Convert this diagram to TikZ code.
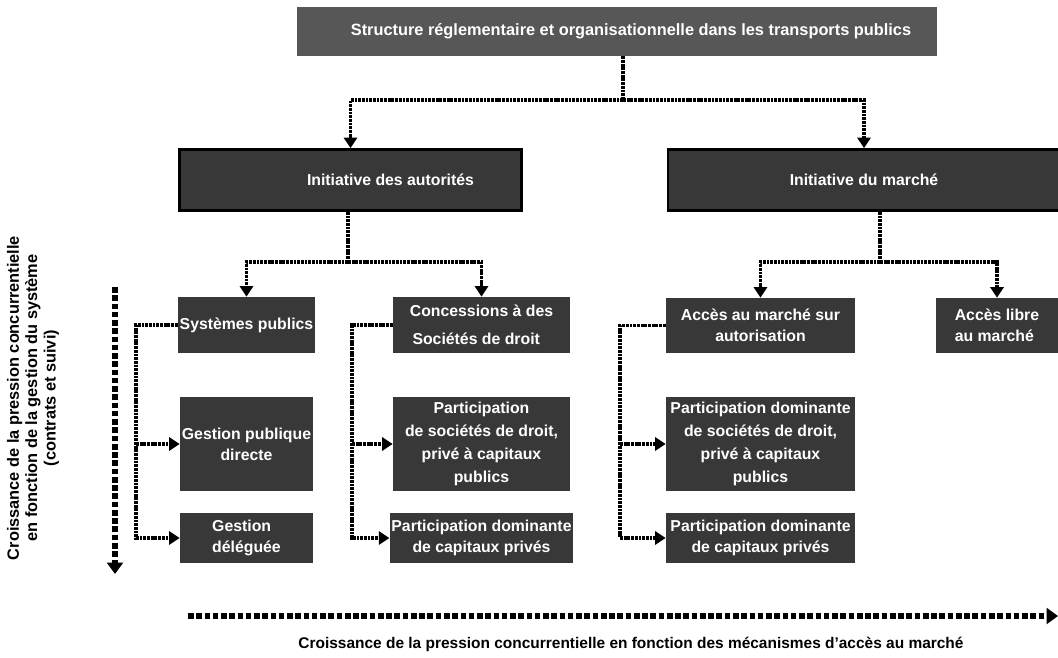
\documentclass[tikz,border=0pt]{standalone}
\usepackage{fontspec}
\setmainfont{Liberation Sans}
\usetikzlibrary{arrows.meta}
\tikzset{
  box/.style={fill=black!78, text=white, font=\bfseries\fontsize{9}{12}\selectfont, align=center, inner sep=1pt},
  conn/.style={line width=1.8pt, dash pattern=on 1.6pt off 0.5pt, -{Triangle[length=6pt,width=7.5pt]}},
  line/.style={line width=1.8pt, dash pattern=on 1.6pt off 0.5pt},
  bigarrow/.style={line width=3.7pt, dash pattern=on 3.2pt off 1.5pt, -{Triangle[length=6.5pt,width=9pt]}}
}
\begin{document}
\begin{tikzpicture}[x=0.02cm, y=-0.02cm]
	\useasboundingbox (0,0) rectangle (1058,657);
	% boxes
	\node[box, fill=black!66, minimum width=12.8cm, minimum height=0.98cm, font=\bfseries\fontsize{9.3}{11}\selectfont] (top) at (617,31.5) {\hspace*{0.56cm}Structure réglementaire et organisationnelle dans les transports publics};
	\node[box, draw=black, line width=1.6pt, minimum width=6.84cm, minimum height=1.22cm] (aut) at (350.5,180) {\hspace*{1.6cm}Initiative des autorités};
	\node[box, draw=black, line width=1.6pt, minimum width=7.84cm, minimum height=1.22cm] (mar) at (864,180) {Initiative du marché};
	\node[box, minimum width=2.66cm, minimum height=1.12cm] (sys) at (246.5,325) {Systèmes publics};
	\node[box, minimum width=3.54cm, minimum height=1.12cm, align=left, font=\bfseries\fontsize{9}{16}\selectfont] (conc) at (481.5,325) {Concessions à des\\ \,Sociétés de droit};
	\node[box, minimum width=3.78cm, minimum height=1.1cm] (acc) at (760.5,325.5) {Accès au marché sur\\autorisation};
	\node[box, minimum width=2.44cm, minimum height=1.1cm, align=left] (libre) at (997,325.5) {Accès libre\\au marché};
	\node[box, minimum width=2.66cm, minimum height=1.88cm] (gpd) at (246.5,444) {Gestion publique\\directe};
	\node[box, minimum width=3.54cm, minimum height=1.88cm, font=\bfseries\fontsize{9}{13}\selectfont] (psd) at (481.5,444) {Participation\hspace{2.6em}\\de sociétés de droit,\\privé à capitaux\\publics};
	\node[box, minimum width=3.78cm, minimum height=1.88cm, font=\bfseries\fontsize{9}{13}\selectfont] (pdsd) at (760.5,444) {Participation dominante\\de sociétés de droit,\\privé à capitaux\hspace{1.5em}\\publics\hspace{2.5em}};
	\node[box, minimum width=2.66cm, minimum height=1.0cm, align=left] (gdel) at (246.5,538) {Gestion\\déléguée};
	\node[box, minimum width=3.54cm, minimum height=1.0cm] (pdcp) at (481.5,538) {Participation dominante\\de capitaux privés};
	\node[box, minimum width=3.78cm, minimum height=1.0cm] (pdcpm) at (760.5,538) {Participation dominante\\de capitaux privés};
	% junctions
	\coordinate (j1) at (623,100);
	\coordinate (j2) at (348,262);
	\coordinate (j3) at (880,262);
	\coordinate (b1) at (136,0);
	\coordinate (b2) at (352,0);
	\coordinate (b3) at (620,0);
	% tree
	\draw[line] (top.south -| j1) -- (j1);
	\draw[conn] (j1) -| (aut.north);
	\draw[conn] (j1) -| (mar.north);
	\draw[line] (aut.south -| j2) -- (j2);
	\draw[conn] (j2) -| (sys.north);
	\draw[conn] (j2) -| (conc.north);
	\draw[line] (mar.south -| j3) -- (j3);
	\draw[conn] (j3) -| (acc.north);
	\draw[conn] (j3) -| (libre.north);
	% side branches
	\draw[conn] (sys.west) -- (sys.west -| b1) |- (gdel.west);
	\draw[conn] (gpd.west -| b1) -- (gpd.west);
	\draw[conn] (conc.west) -- (conc.west -| b2) |- (pdcp.west);
	\draw[conn] (psd.west -| b2) -- (psd.west);
	\draw[conn] (acc.west) -- (acc.west -| b3) |- (pdcpm.west);
	\draw[conn] (pdsd.west -| b3) -- (pdsd.west);
	% axes
	\coordinate (v1) at (115,287);
	\coordinate (v2) at (115,574);
	\coordinate (h1) at (188,616);
	\coordinate (h2) at (1058,616);
	\draw[bigarrow] (v1) -- (v2);
	\draw[bigarrow] (h1) -- (h2);
	\node[font=\bfseries\fontsize{9.3}{10.5}\selectfont, rotate=90, align=center] (vlab) at (33,398) {Croissance de la pression concurrentielle\\en fonction de la gestion du système\\(contrats et suivi)};
	\node[font=\bfseries\fontsize{8.8}{11}\selectfont] (hlab) at (631,644) {Croissance de la pression concurrentielle en fonction des mécanismes d’accès au marché};
\end{tikzpicture}
\end{document}
